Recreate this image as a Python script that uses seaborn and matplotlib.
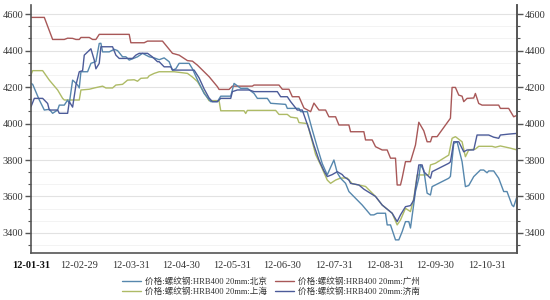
import matplotlib
matplotlib.use('Agg')
import matplotlib.pyplot as plt
import matplotlib.dates as mdates
from matplotlib.ticker import AutoMinorLocator, FixedLocator
from matplotlib.lines import Line2D
import seaborn as sns
import pandas as pd

# ---------------- data ----------------
series_names = ['价格:螺纹钢:HRB400 20mm:北京', '价格:螺纹钢:HRB400 20mm:上海',
                '价格:螺纹钢:HRB400 20mm:广州', '价格:螺纹钢:HRB400 20mm:济南']
series_colors = ['#5687ad', '#aebb66', '#a85858', '#4c5b99']

gz_dates = ['01-31', '02-08', '02-13', '02-20', '02-22', '02-25', '02-27', '02-29', '03-01', '03-06',
            '03-08', '03-10', '03-12', '03-30', '03-31', '04-08', '04-10', '04-19', '04-25', '04-29',
            '05-04', '05-07', '05-10', '05-17', '05-22', '05-23', '05-29', '05-31', '06-12', '06-13',
            '06-28', '06-30', '07-04', '07-06', '07-10', '07-13', '07-17', '07-19', '07-22', '07-26',
            '07-28', '08-01', '08-03', '08-09', '08-10', '08-18', '08-19', '08-23', '08-25', '08-29',
            '09-01', '09-03', '09-06', '09-07', '09-09', '09-10', '09-12', '09-15', '09-18', '09-20',
            '09-23', '09-25', '09-27', '09-28', '10-01', '10-09', '10-10', '10-12', '10-14', '10-16',
            '10-17', '10-19', '10-23', '10-24', '10-26', '10-28', '11-07', '11-08', '11-13', '11-16',
            '11-18']
gz_vals = [4582, 4582, 4461, 4461, 4468, 4467, 4461, 4461, 4472, 4472,
           4461, 4461, 4489, 4489, 4443, 4443, 4452, 4452, 4385, 4375,
           4345, 4342, 4320, 4257, 4202, 4187, 4187, 4205, 4205, 4211,
           4211, 4188, 4188, 4147, 4147, 4085, 4065, 4112, 4074, 4074,
           4037, 4037, 3992, 3992, 3955, 3955, 3910, 3910, 3873, 3855,
           3855, 3810, 3810, 3663, 3663, 3701, 3791, 3791, 3882, 4007,
           3960, 3900, 3900, 3928, 3928, 4029, 4198, 4198, 4156, 4150,
           4120, 4138, 4140, 4165, 4110, 4101, 4101, 4083, 4083, 4037,
           4045]

sh_dates = ['01-31', '02-01', '02-07', '02-11', '02-16', '02-19', '02-20', '02-29', '03-01', '03-06',
            '03-09', '03-14', '03-16', '03-20', '03-22', '03-26', '03-29', '04-02', '04-04', '04-06',
            '04-10', '04-11', '04-14', '04-17', '04-26', '05-04', '05-07', '05-10', '05-14', '05-17',
            '05-23', '05-24', '06-07', '06-08', '06-09', '06-26', '06-28', '07-03', '07-05', '07-09',
            '07-10', '07-15', '07-18', '07-20', '07-23', '07-27', '07-29', '08-01', '08-04', '08-08',
            '08-11', '08-15', '08-19', '08-25', '08-29', '09-04', '09-07', '09-09', '09-12', '09-15',
            '09-17', '09-19', '09-26', '09-27', '09-30', '10-08', '10-10', '10-12', '10-16', '10-18',
            '10-20', '10-24', '10-26', '11-03', '11-05', '11-08', '11-14', '11-18']
sh_vals = [4268, 4290, 4290, 4238, 4184, 4138, 4129, 4129, 4184, 4188,
           4195, 4205, 4195, 4195, 4211, 4215, 4238, 4240, 4232, 4248,
           4250, 4262, 4275, 4284, 4284, 4275, 4255, 4230, 4170, 4125,
           4125, 4070, 4070, 4055, 4072, 4072, 4050, 4050, 4035, 4030,
           4005, 4000, 3900, 3830, 3773, 3690, 3672, 3690, 3701, 3701,
           3670, 3663, 3655, 3600, 3553, 3508, 3444, 3471, 3535, 3517,
           3590, 3718, 3718, 3773, 3782, 3827, 3919, 3928, 3900, 3818,
           3855, 3860, 3875, 3875, 3870, 3877, 3865, 3855]

bj_dates = ['01-31', '02-01', '02-05', '02-08', '02-11', '02-13', '02-16', '02-17', '02-20', '02-22',
            '02-23', '02-25', '02-26', '02-28', '02-29', '03-01', '03-05', '03-07', '03-10', '03-12',
            '03-13', '03-14', '03-18', '03-21', '03-23', '03-26', '03-28', '03-30', '04-01', '04-04',
            '04-07', '04-11', '04-14', '04-17', '04-20', '04-23', '04-25', '04-27', '04-29', '05-05',
            '05-07', '05-10', '05-14', '05-18', '05-22', '05-24', '05-30', '06-01', '06-05', '06-09',
            '06-13', '06-15', '06-21', '06-23', '07-02', '07-03', '07-10', '07-11', '07-15', '07-18',
            '07-21', '07-24', '07-27', '07-29', '07-31', '08-02', '08-04', '08-07', '08-09', '08-17',
            '08-22', '08-24', '08-26', '08-31', '09-01', '09-03', '09-06', '09-08', '09-10', '09-12',
            '09-14', '09-15', '09-18', '09-20', '09-21', '09-23', '09-25', '09-27', '09-28', '10-08',
            '10-09', '10-11', '10-13', '10-16', '10-18', '10-20', '10-23', '10-27', '10-29', '10-31',
            '11-01', '11-04', '11-07', '11-10', '11-12', '11-15', '11-16', '11-18']
bj_vals = [4220, 4215, 4129, 4074, 4078, 4056, 4074, 4101, 4101, 4129,
           4110, 4238, 4230, 4211, 4195, 4284, 4284, 4330, 4340, 4439,
           4440, 4393, 4393, 4407, 4400, 4366, 4366, 4348, 4355, 4366,
           4385, 4366, 4360, 4350, 4360, 4339, 4293, 4300, 4330, 4330,
           4300, 4240, 4165, 4120, 4120, 4150, 4150, 4220, 4193, 4193,
           4165, 4138, 4138, 4111, 4105, 4083, 4083, 4065, 4065, 3965,
           3870, 3780, 3718, 3760, 3800, 3730, 3700, 3672, 3627, 3553,
           3499, 3499, 3508, 3508, 3444, 3444, 3362, 3362, 3407, 3462,
           3462, 3427, 3627, 3700, 3773, 3745, 3618, 3608, 3654, 3700,
           3710, 3891, 3900, 3791, 3654, 3660, 3709, 3745, 3745, 3730,
           3740, 3740, 3700, 3627, 3627, 3553, 3544, 3600]

jn_dates = ['01-31', '02-02', '02-07', '02-10', '02-11', '02-16', '02-17', '02-22', '02-23', '02-25',
            '02-27', '02-29', '03-02', '03-03', '03-07', '03-09', '03-10', '03-12', '03-13', '03-20',
            '03-22', '03-24', '04-01', '04-03', '04-05', '04-10', '04-13', '04-16', '04-17', '04-20',
            '04-24', '04-25', '05-08', '05-11', '05-14', '05-17', '05-19', '05-22', '05-24', '05-30',
            '05-31', '06-03', '06-10', '06-13', '06-27', '06-29', '07-03', '07-05', '07-09', '07-12',
            '07-16', '07-19', '07-22', '07-25', '07-27', '07-30', '08-02', '08-05', '08-06', '08-09',
            '08-10', '08-15', '08-18', '08-25', '08-29', '09-04', '09-07', '09-09', '09-12', '09-15',
            '09-17', '09-20', '09-22', '09-23', '09-25', '09-27', '09-28', '10-08', '10-09', '10-11',
            '10-14', '10-17', '10-19', '10-23', '10-25', '11-01', '11-04', '11-07', '11-08', '11-13',
            '11-18']
jn_vals = [4092, 4138, 4138, 4110, 4074, 4074, 4056, 4056, 4120, 4090,
           4211, 4284, 4290, 4375, 4410, 4348, 4300, 4330, 4421, 4421,
           4375, 4357, 4357, 4375, 4385, 4385, 4365, 4339, 4339, 4311,
           4311, 4293, 4293, 4250, 4190, 4140, 4120, 4120, 4138, 4138,
           4175, 4184, 4184, 4175, 4175, 4147, 4147, 4120, 4074, 4074,
           3970, 3880, 3800, 3740, 3709, 3720, 3736, 3720, 3709, 3690,
           3672, 3663, 3640, 3600, 3553, 3508, 3462, 3499, 3544, 3550,
           3580, 3773, 3773, 3736, 3718, 3700, 3736, 3782, 3790, 3900,
           3900, 3845, 3855, 3855, 3937, 3937, 3925, 3919, 3937, 3942,
           3946]

x_tick_dates = ['2012-01-31', '2012-02-29', '2012-03-31', '2012-04-30', '2012-05-31',
                '2012-06-30', '2012-07-31', '2012-08-31', '2012-09-30', '2012-10-31']
y_ticks = [3400, 3600, 3800, 4000, 4200, 4400, 4600]

# ---------------- build frame ----------------
frames = []
for name, ds, vs in [(series_names[0], bj_dates, bj_vals),
                     (series_names[1], sh_dates, sh_vals),
                     (series_names[2], gz_dates, gz_vals),
                     (series_names[3], jn_dates, jn_vals)]:
    frames.append(pd.DataFrame({'date': pd.to_datetime(['2012-' + d for d in ds]),
                                'price': vs, 'series': name}))
df = pd.concat(frames, ignore_index=True)

sns.set_theme(style='white')
plt.rcParams['font.family'] = ['Liberation Serif', 'Noto Sans CJK SC', 'DejaVu Sans']

fig = plt.figure(figsize=(5.5, 3.0), dpi=100)
ax = fig.add_axes([31 / 550, 1 - 253 / 300, (517 - 31) / 550, (253 - 5) / 300])

palette = dict(zip(series_names, series_colors))
draw_order = [series_names[1], series_names[2], series_names[0], series_names[3]]
sns.lineplot(data=df, x='date', y='price', hue='series', hue_order=draw_order,
             palette=palette, estimator=None, sort=True, linewidth=1.0, ax=ax, legend=False)

ax.set_xlim(pd.Timestamp('2012-01-31'), pd.Timestamp('2012-11-18'))
ax.set_ylim(3290, 4650)
ax.set_xlabel('')
ax.set_ylabel('')

ax.xaxis.set_major_locator(FixedLocator(mdates.date2num(pd.to_datetime(x_tick_dates))))
ax.xaxis.set_major_formatter(mdates.DateFormatter('%y-%m-%d'))
ax.xaxis.set_minor_locator(mdates.DayLocator(bymonthday=[10, 20]))
ax.set_yticks(y_ticks)
ax.yaxis.set_minor_locator(AutoMinorLocator(3))

ax.grid(axis='y', which='major', color='#e2e2e2', linewidth=0.8)
ax.grid(axis='y', which='minor', color='#f1f1f1', linewidth=0.6)
ax.set_axisbelow(True)

spine_col = '#555555'
for s in ['left', 'bottom', 'right']:
    ax.spines[s].set_color(spine_col)
    ax.spines[s].set_linewidth(1.2)
ax.spines['top'].set_visible(False)

ax.tick_params(axis='both', which='major', direction='out', length=4, width=1,
               color=spine_col, labelsize=7.5, labelcolor='#333333', pad=1.5)
ax.tick_params(axis='both', which='minor', direction='out', length=2.5, width=0.8,
               color=spine_col)
ax.tick_params(axis='x', which='major', pad=1.5)

ax2 = ax.twinx()
ax2.set_ylim(ax.get_ylim())
ax2.set_yticks(y_ticks)
ax2.yaxis.set_minor_locator(AutoMinorLocator(3))
ax2.tick_params(axis='y', which='major', direction='out', length=4, width=1,
                color=spine_col, labelsize=7.5, labelcolor='#333333', pad=1.5)
ax2.tick_params(axis='y', which='minor', direction='out', length=2.5, width=0.8,
                color=spine_col)
for s in ['left', 'bottom', 'top']:
    ax2.spines[s].set_visible(False)
ax2.spines['right'].set_color(spine_col)
ax2.spines['right'].set_linewidth(1.2)
ax2.grid(False)

fig.canvas.draw()
xl = ax.get_xticklabels()
if xl:
    xl[0].set_fontweight('bold')
    xl[0].set_color('#111111')

handles = [Line2D([0], [0], color=palette[n], lw=1.0) for n in series_names]
leg = fig.legend(handles, series_names, loc='center', bbox_to_anchor=(0.492, 0.045),
                 ncol=2, frameon=False, handlelength=2.3, handletextpad=0.35,
                 columnspacing=0.95, labelspacing=0.12, borderpad=0.1,
                 prop={'family': ['Liberation Serif', 'Noto Sans CJK SC'], 'size': 6.2})
for t in leg.get_texts():
    t.set_color('#333333')

fig.savefig('out.png', dpi=100, facecolor='white')
